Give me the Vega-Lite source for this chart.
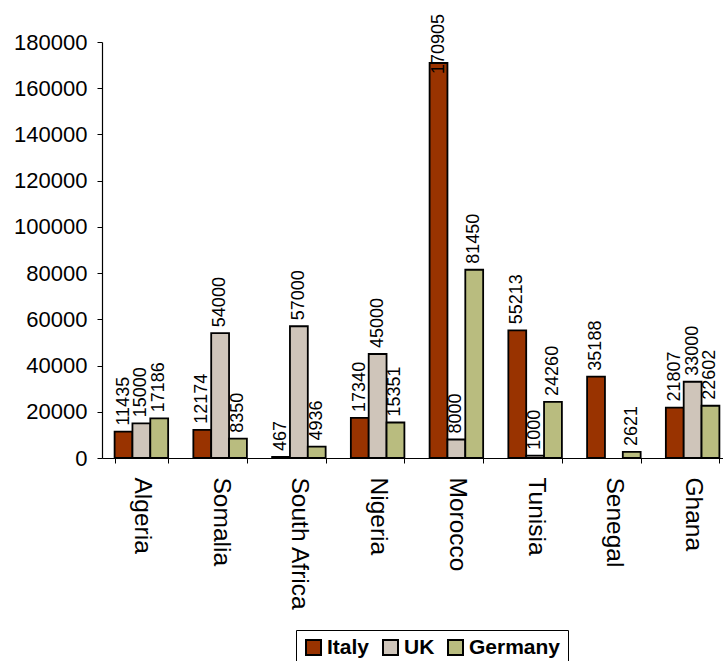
{
  "$schema": "https://vega.github.io/schema/vega-lite/v6.json",
  "width": 630,
  "height": 416,
  "autosize": {"type": "none"},
  "padding": {"left": 102, "top": 42, "right": 0, "bottom": 203},
  "background": "white",
  "config": {"view": {"stroke": null}, "font": "Liberation Sans"},
  "data": {
    "values": [
      {"country": "Algeria", "series": "Italy", "value": 11435},
      {"country": "Algeria", "series": "UK", "value": 15000},
      {"country": "Algeria", "series": "Germany", "value": 17186},
      {"country": "Somalia", "series": "Italy", "value": 12174},
      {"country": "Somalia", "series": "UK", "value": 54000},
      {"country": "Somalia", "series": "Germany", "value": 8350},
      {"country": "South Africa", "series": "Italy", "value": 467},
      {"country": "South Africa", "series": "UK", "value": 57000},
      {"country": "South Africa", "series": "Germany", "value": 4936},
      {"country": "Nigeria", "series": "Italy", "value": 17340},
      {"country": "Nigeria", "series": "UK", "value": 45000},
      {"country": "Nigeria", "series": "Germany", "value": 15351},
      {"country": "Morocco", "series": "Italy", "value": 170905},
      {"country": "Morocco", "series": "UK", "value": 8000},
      {"country": "Morocco", "series": "Germany", "value": 81450},
      {"country": "Tunisia", "series": "Italy", "value": 55213},
      {"country": "Tunisia", "series": "UK", "value": 1000},
      {"country": "Tunisia", "series": "Germany", "value": 24260},
      {"country": "Senegal", "series": "Italy", "value": 35188},
      {"country": "Senegal", "series": "Germany", "value": 2621},
      {"country": "Ghana", "series": "Italy", "value": 21807},
      {"country": "Ghana", "series": "UK", "value": 33000},
      {"country": "Ghana", "series": "Germany", "value": 22602}
    ]
  },
  "encoding": {
    "x": {
      "field": "country",
      "type": "nominal",
      "sort": ["Algeria", "Somalia", "South Africa", "Nigeria", "Morocco", "Tunisia", "Senegal", "Ghana"],
      "scale": {"paddingInner": 0.32, "paddingOuter": 0.16},
      "axis": {
        "title": null,
        "labelAngle": 90,
        "labelAlign": "left",
        "labelBaseline": "middle",
        "labelFontSize": 24.5,
        "labelColor": "black",
        "labelPadding": 14,
        "tickBand": "extent",
        "tickColor": "black",
        "tickSize": 5,
        "domainColor": "black",
        "domainWidth": 1.2,
        "grid": false
      }
    },
    "xOffset": {"field": "series", "type": "nominal", "sort": ["Italy", "UK", "Germany"]}
  },
  "resolve": {"scale": {"y": "independent"}},
  "layer": [
    {
      "mark": {"type": "bar", "stroke": "black", "strokeWidth": 1.8},
      "encoding": {
        "y": {
          "field": "value",
          "type": "quantitative",
          "scale": {"domain": [0, 180000], "nice": false},
          "axis": {
            "title": null,
            "values": [0, 20000, 40000, 60000, 80000, 100000, 120000, 140000, 160000, 180000],
            "format": "d",
            "labelFontSize": 22,
            "labelColor": "black",
            "labelPadding": 10,
            "tickColor": "black",
            "tickSize": 5,
            "domainColor": "black",
            "domainWidth": 1.2,
            "grid": false
          }
        },
        "color": {
          "field": "series",
          "type": "nominal",
          "sort": ["Italy", "UK", "Germany"],
          "scale": {"domain": ["Italy", "UK", "Germany"], "range": ["#993300", "#CFC5BA", "#B9BC7F"]},
          "legend": {
            "title": null,
            "orient": "none",
            "direction": "horizontal",
            "legendX": 194,
            "legendY": 588,
            "strokeColor": "black",
            "padding": 7,
            "symbolType": "square",
            "symbolSize": 225,
            "symbolStrokeColor": "black",
            "symbolStrokeWidth": 2,
            "symbolOpacity": 1,
            "labelFontSize": 21,
            "labelFontWeight": "bold",
            "labelColor": "black",
            "columnPadding": 9,
            "labelOffset": 3
          }
        }
      }
    },
    {
      "mark": {"type": "text", "angle": 270, "align": "left", "baseline": "middle", "dx": 6, "fontSize": 18, "color": "black"},
      "encoding": {
        "y": {
          "field": "value",
          "type": "quantitative",
          "scale": {"domain": [0, 163500], "range": [416, 38], "clamp": true},
          "axis": null
        },
        "text": {"field": "value", "type": "quantitative", "format": "d"}
      }
    }
  ]
}
